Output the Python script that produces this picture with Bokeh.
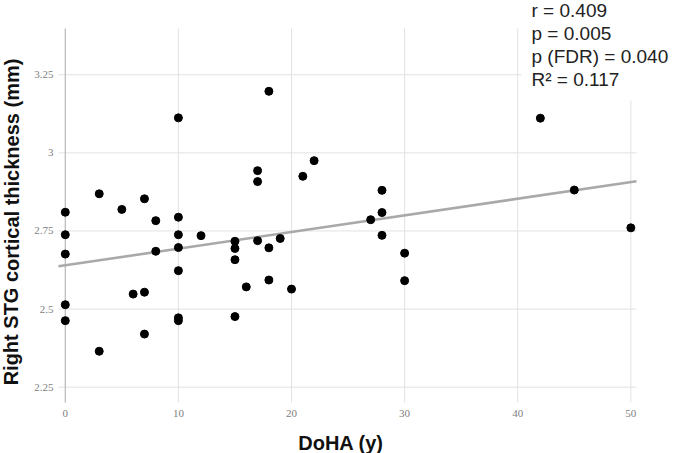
from bokeh.plotting import figure
from bokeh.models import Range1d, Label
from bokeh.core.properties import value
from bokeh.embed import file_html
from bokeh.resources import INLINE

# Duration of hearing aid use (years) and right STG cortical thickness (mm)
doha_years = [0, 0, 0, 0, 0,
              3, 3,
              5,
              6,
              7, 7, 7,
              8, 8,
              10, 10, 10, 10, 10, 10, 10,
              12,
              15, 15, 15, 15,
              16,
              17, 17, 17,
              18, 18, 18,
              19,
              20,
              21,
              22,
              27,
              28, 28, 28,
              30, 30,
              42,
              45,
              50]
stg_thickness = [2.810, 2.738, 2.676, 2.514, 2.463,
                 2.869, 2.365,
                 2.819,
                 2.548,
                 2.853, 2.554, 2.420,
                 2.783, 2.685,
                 3.112, 2.794, 2.738, 2.697, 2.623, 2.472, 2.463,
                 2.735,
                 2.717, 2.694, 2.658, 2.476,
                 2.571,
                 2.943, 2.908, 2.719,
                 3.197, 2.696, 2.593,
                 2.726,
                 2.564,
                 2.925,
                 2.975,
                 2.786,
                 2.880, 2.809, 2.736,
                 2.679, 2.591,
                 3.111,
                 2.881,
                 2.760]

# Linear fit drawn across the plot
fit_intercept = 2.640
fit_slope = 0.00533

x_ticks = [0, 10, 20, 30, 40, 50]
x_tick_labels = ["0", "10", "20", "30", "40", "50"]
y_ticks = [2.25, 2.5, 2.75, 3.0, 3.25]
y_tick_labels = ["2.25", "2.5", "2.75", "3", "3.25"]

stats_lines = ["r = 0.409", "p = 0.005", "p (FDR) = 0.040", "R\u00b2 = 0.117"]

x_title = "DoHA (y)"
y_title = "Right STG cortical thickness (mm)"

# plotting area (data units) and its placement on the 675 x 453 canvas (pixels)
W, H = 675, 453
x_lo, x_hi = -0.6, 50.5
y_lo, y_hi = 2.201, 3.398
area_left, area_right, area_top, area_bottom = 58, 636, 28, 402

sx = (area_right - area_left) / (x_hi - x_lo)
sy = (area_bottom - area_top) / (y_hi - y_lo)


def data_x(px):
    return x_lo + (px - area_left) / sx


def data_y(py):
    return y_hi - (py - area_top) / sy


# the frame covers the whole canvas so that every text can sit anywhere on it
p = figure(width=W, height=H, output_backend="svg", toolbar_location=None,
           x_range=Range1d(data_x(0), data_x(W)), y_range=Range1d(data_y(H), data_y(0)),
           min_border=0, min_border_left=0, min_border_right=0,
           min_border_top=0, min_border_bottom=0)
p.outline_line_color = None
p.background_fill_color = "white"
p.border_fill_color = "white"
p.axis.visible = False
p.grid.visible = False

grid_col = "#e2e2e2"
# horizontal grid lines
p.segment(x0=[x_lo] * len(y_ticks), y0=y_ticks, x1=[x_hi] * len(y_ticks), y1=y_ticks,
          line_color=grid_col, line_width=1)
# vertical grid lines
p.segment(x0=x_ticks[1:], y0=[y_lo] * (len(x_ticks) - 1), x1=x_ticks[1:],
          y1=[y_hi] * (len(x_ticks) - 1), line_color=grid_col, line_width=1)
# axis line at x = 0
p.segment(x0=[x_ticks[0]], y0=[y_lo], x1=[x_ticks[0]], y1=[y_hi],
          line_color="#b8b8b8", line_width=1.2)

tick_font = value("Liberation Sans Narrow")
p.text(x=[data_x(53)] * len(y_ticks), y=y_ticks, text=y_tick_labels,
       text_font=tick_font, text_font_size=value("11px"), text_color="#808080",
       text_align="right", text_baseline="middle")
p.text(x=x_ticks, y=[data_y(413)] * len(x_ticks), text=x_tick_labels,
       text_font=tick_font, text_font_size=value("11px"), text_color="#808080",
       text_align="center", text_baseline="middle")

# regression line
fx = [x_lo, x_hi]
fy = [fit_intercept + fit_slope * v for v in fx]
p.line(fx, fy, line_color="#a9a9a9", line_width=2.6)

# participants
p.scatter(doha_years, stg_thickness, size=8, fill_color="black", line_color="black")

title_font = value("Liberation Sans")
p.text(x=[data_x(340.5)], y=[data_y(442)], text=[x_title],
       text_font=title_font, text_font_size=value("20px"), text_font_style="bold",
       text_color="#111111", text_align="center", text_baseline="alphabetic")
p.text(x=[data_x(11)], y=[data_y(221.5)], text=[y_title], angle=1.5707963,
       text_font=title_font, text_font_size=value("20px"), text_font_style="bold",
       text_color="#111111", text_align="center", text_baseline="alphabetic")

p.add_layout(Label(x=data_x(521), y=data_y(-11), text="\n".join(stats_lines),
                   text_font="Liberation Sans", text_font_size="19px", text_color="#222222",
                   text_align="left", text_baseline="top", text_line_height=1.11,
                   background_fill_color="white", padding=10))

open("out.html", "w").write(file_html(p, INLINE))
